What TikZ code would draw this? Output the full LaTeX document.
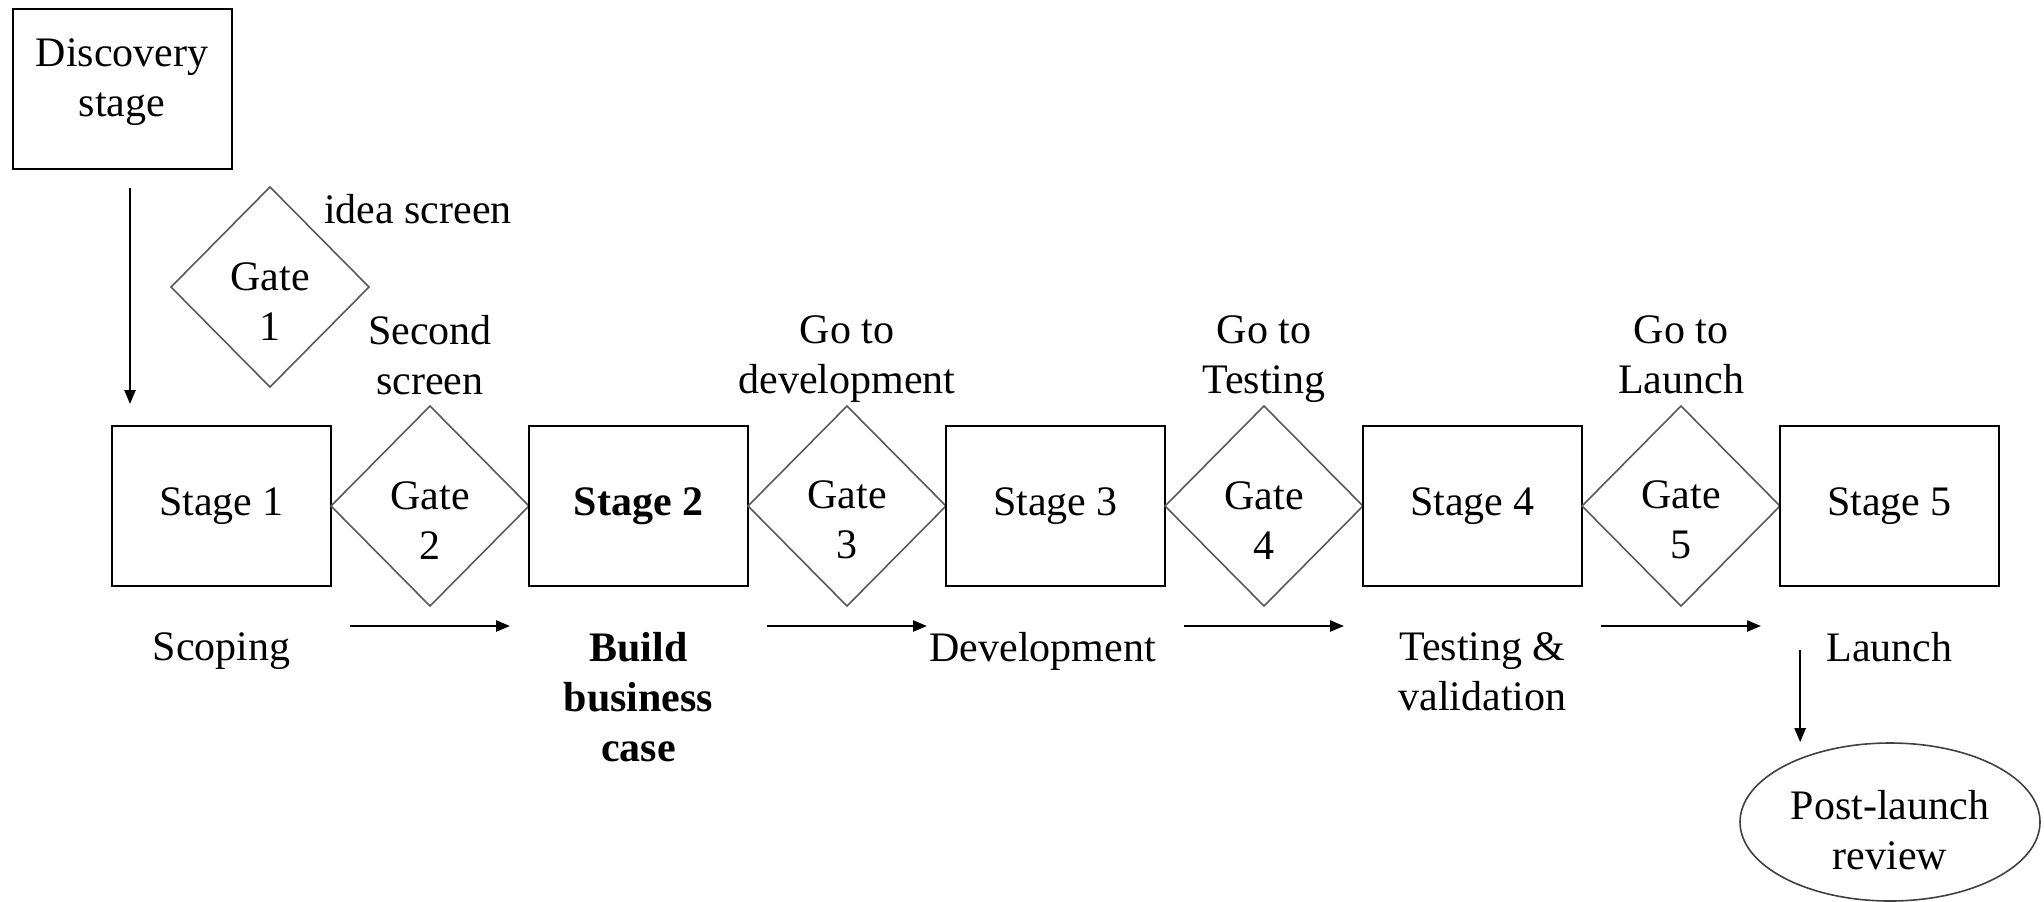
\documentclass[tikz,border=0pt]{standalone}
\usepackage{fontspec}
\setmainfont{Liberation Serif}
\usepackage{tikz}
\usetikzlibrary{shapes.geometric,arrows.meta,positioning,calc}

\newcommand{\gatelabel}[1]{\rule{0pt}{28pt}Gate\\#1}

\begin{document}
\begin{tikzpicture}[
    x=0.5pt, y=-0.5pt,
    font=\fontsize{21}{25}\selectfont,
    stagebox/.style={rectangle, draw, line width=1pt, minimum width=109.5pt, minimum height=80pt, outer sep=0pt, inner sep=0pt, align=center},
    gate/.style={diamond, draw=black!65, line width=0.8pt, minimum width=99pt, minimum height=100pt, outer sep=0pt, inner sep=0pt, align=center},
    review/.style={ellipse, draw=black!75, line width=0.8pt, minimum width=150pt, minimum height=79pt, inner sep=0pt, align=center},
    lbl/.style={align=center, inner sep=0pt},
    arrow/.style={-{Triangle[length=7pt,width=5.5pt]}, line width=1.2pt}
]
\useasboundingbox (0,0) rectangle (2044,901);

% Discovery and first gate
\node[stagebox] (disc) at (122,89) {Discovery\\stage\rule[-11pt]{0pt}{11pt}};
\node[gate] (g1) at (270,287) {\gatelabel{1}};
\node[lbl] (idea) at (418,209) {idea screen};

% Stages and gates
\node[stagebox] (s1) at (221.5,506) {Stage 1};
\node[gate, right=0pt of s1] (g2) {\gatelabel{2}};
\node[stagebox, right=0pt of g2] (s2) {\textbf{Stage 2}};
\node[gate, right=0pt of s2] (g3) {\gatelabel{3}};
\node[stagebox, right=0pt of g3] (s3) {Stage 3};
\node[gate, right=0pt of s3] (g4) {\gatelabel{4}};
\node[stagebox, right=0pt of g4] (s4) {Stage 4};
\node[gate, right=0pt of s4] (g5) {\gatelabel{5}};
\node[stagebox, right=0pt of g5] (s5) {Stage 5};

% Gate names
\node[lbl, anchor=north] (t2) at ($(g2.north)+(0,45.5pt)$) {Second\\screen};
\node[lbl, anchor=north] (t3) at ($(g3.north)+(0,45.5pt)$) {Go to\\development};
\node[lbl, anchor=north] (t4) at ($(g4.north)+(0,45.5pt)$) {Go to\\Testing};
\node[lbl, anchor=north] (t5) at ($(g5.north)+(0,45.5pt)$) {Go to\\Launch};

% Stage names
\node[lbl, below=23pt of s1] (scoping) {Scoping};
\node[lbl, below=23pt of s2, font=\fontsize{21}{25}\selectfont\bfseries] (bcase) {Build\\business\\case};
\node[lbl, below=23pt of s3, xshift=-6.5pt] (devel) {Development};
\node[lbl, below=23pt of s4, xshift=5pt] (testing) {Testing \&\\validation};
\node[lbl, below=23pt of s5] (launch) {Launch};

% Review
\node[review] (post) at (1890,822) {\rule{0pt}{23pt}Post-launch\\review};

% Connections
\draw[arrow] ($(disc.south)+(4pt,-9.5pt)$) -- ($(disc.south |- s1.north)+(4pt,11pt)$);
\foreach \i in {2,...,5} {
    \coordinate (l\i) at ($(g\i.south)+(-40pt,-10pt)$);
    \coordinate (r\i) at ($(g\i.south)+(40pt,-10pt)$);
    \draw[arrow] (l\i) -- (r\i);
}
\coordinate (ltop) at ($(launch.west)+(-13pt,-1.5pt)$);
\draw[arrow] (ltop) -- (ltop |- post.north);

\end{tikzpicture}
\end{document}
